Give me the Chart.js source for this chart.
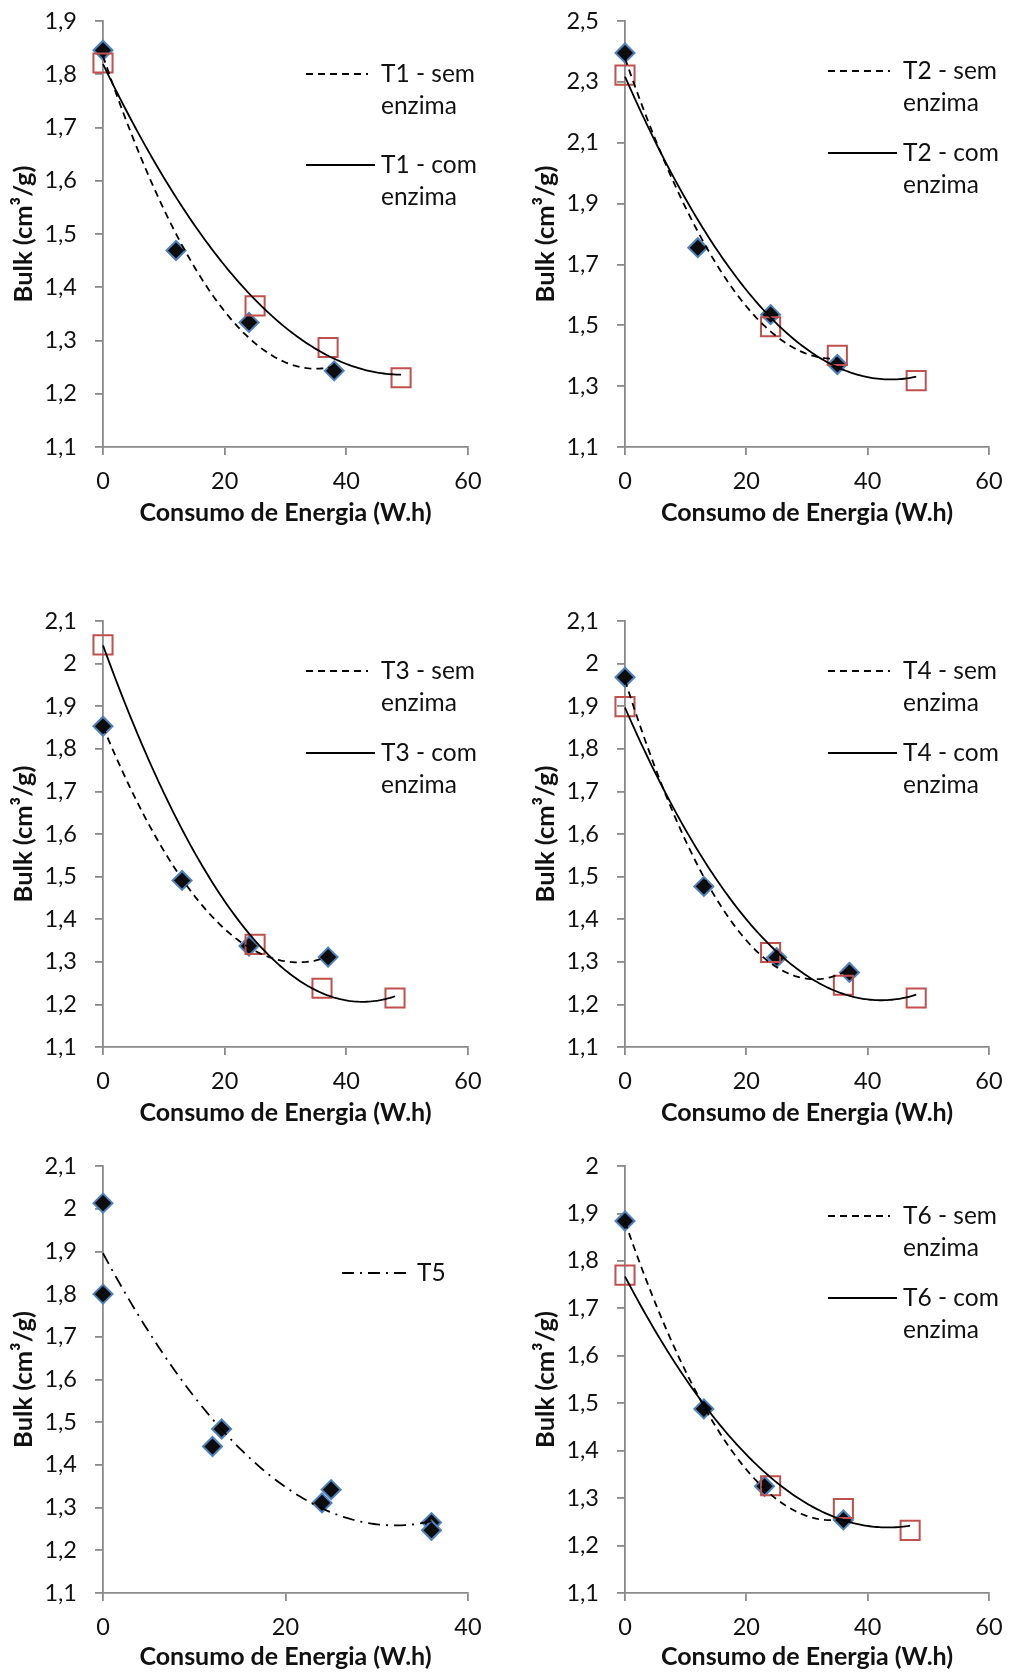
<!DOCTYPE html>
<html>
<head>
<meta charset="utf-8">
<script src="https://cdn.jsdelivr.net/npm/chart.js@4.4.1/dist/chart.umd.min.js"></script>
<style>
  html, body { margin: 0; padding: 0; background: #fff; }
  body { width: 1011px; height: 1672px; position: relative; overflow: hidden; }
  canvas { position: absolute; }
</style>
</head>
<body>
<canvas id="c1"></canvas>
<canvas id="c2"></canvas>
<canvas id="c3"></canvas>
<canvas id="c4"></canvas>
<canvas id="c5"></canvas>
<canvas id="c6"></canvas>
<script>
// ---------------- DATA ----------------
const xTitle = 'Consumo de Energia (W.h)';
const yTitle = 'Bulk (cm³/g)';

// T1
const t1SemX = [0, 12, 24, 38];
const t1SemY = [1.845, 1.469, 1.334, 1.243];
const t1ComX = [0, 25, 37, 49];
const t1ComY = [1.821, 1.365, 1.287, 1.230];
const t1Labels = [['T1 - sem', 'enzima'], ['T1 - com', 'enzima']];

// T2
const t2SemX = [0, 12, 24, 35];
const t2SemY = [2.395, 1.755, 1.535, 1.371];
const t2ComX = [0, 24, 35, 48];
const t2ComY = [2.322, 1.495, 1.401, 1.318];
const t2Labels = [['T2 - sem', 'enzima'], ['T2 - com', 'enzima']];

// T3
const t3SemX = [0, 13, 24, 37];
const t3SemY = [1.853, 1.491, 1.337, 1.311];
const t3ComX = [0, 25, 36, 48];
const t3ComY = [2.044, 1.341, 1.238, 1.215];
const t3Labels = [['T3 - sem', 'enzima'], ['T3 - com', 'enzima']];

// T4
const t4SemX = [0, 13, 25, 37];
const t4SemY = [1.968, 1.477, 1.310, 1.275];
const t4ComX = [0, 24, 36, 48];
const t4ComY = [1.899, 1.322, 1.245, 1.215];
const t4Labels = [['T4 - sem', 'enzima'], ['T4 - com', 'enzima']];

// T5
const t5X = [0, 0, 12, 13, 24, 25, 36, 36];
const t5Y = [2.013, 1.800, 1.443, 1.484, 1.311, 1.342, 1.265, 1.247];
const t5Labels = [['T5']];

// T6
const t6SemX = [0, 13, 23, 36];
const t6SemY = [1.884, 1.488, 1.325, 1.254];
const t6ComX = [0, 24, 36, 47];
const t6ComY = [1.770, 1.326, 1.278, 1.232];
const t6Labels = [['T6 - sem', 'enzima'], ['T6 - com', 'enzima']];

// axis ranges [min, max, step]
const xRangeA = [0, 60, 20];
const xRangeB = [0, 40, 20];
const yRange1 = [1.1, 1.9, 0.1];
const yRange2 = [1.1, 2.5, 0.2];
const yRange3 = [1.1, 2.1, 0.1];
const yRange4 = [1.1, 2.1, 0.1];
const yRange5 = [1.1, 2.1, 0.1];
const yRange6 = [1.1, 2.0, 0.1];

// ---------------- helpers ----------------
const FONT = 'Lato, "Open Sans", "DejaVu Sans", sans-serif';
const TEXT = '#111';
const AXIS = '#8a8a8a';

function pts(xs, ys) { return xs.map((x, i) => ({ x: x, y: ys[i] })); }

// Excel-style polynomial (order 2) trendline: least squares fit of the data
function quadFit(xs, ys) {
  const s = [0, 0, 0, 0, 0], t = [0, 0, 0];
  for (let i = 0; i < xs.length; i++) {
    let p = 1;
    for (let k = 0; k <= 4; k++) { s[k] += p; if (k <= 2) t[k] += ys[i] * p; p *= xs[i]; }
  }
  const A = [[s[0], s[1], s[2], t[0]], [s[1], s[2], s[3], t[1]], [s[2], s[3], s[4], t[2]]];
  for (let c = 0; c < 3; c++) {
    let m = c;
    for (let r = c + 1; r < 3; r++) if (Math.abs(A[r][c]) > Math.abs(A[m][c])) m = r;
    [A[c], A[m]] = [A[m], A[c]];
    for (let r = 0; r < 3; r++) {
      if (r === c) continue;
      const f = A[r][c] / A[c][c];
      for (let k = c; k < 4; k++) A[r][k] -= f * A[c][k];
    }
  }
  return [A[0][3] / A[0][0], A[1][3] / A[1][1], A[2][3] / A[2][2]];
}
function trend(xs, ys) {
  const c = quadFit(xs, ys);
  const x0 = Math.min(...xs), x1 = Math.max(...xs);
  const out = [];
  const n = 120;
  for (let i = 0; i <= n; i++) {
    const x = x0 + (x1 - x0) * i / n;
    out.push({ x: x, y: c[0] + c[1] * x + c[2] * x * x });
  }
  return out;
}

const DASH = [7, 5];
const DASHDOT = [12, 6, 2, 6];

function semPoints(xs, ys) {
  return { type: 'scatter', data: pts(xs, ys), pointStyle: 'rectRot', pointRadius: 9.5,
    backgroundColor: '#0d0d0d', borderColor: '#4f81bd', borderWidth: 2, showLine: false, clip: false, order: 2 };
}
function comPoints(xs, ys) {
  return { type: 'scatter', data: pts(xs, ys), pointStyle: 'rect', pointRadius: 13.5,
    backgroundColor: 'rgba(0,0,0,0)', borderColor: '#c0504d', borderWidth: 2, showLine: false, clip: false, order: 1 };
}
function trendLine(xs, ys, dash) {
  return { type: 'scatter', data: trend(xs, ys), showLine: true, pointRadius: 0, borderColor: '#000',
    borderWidth: 1.8, borderDash: dash, backgroundColor: '#000', clip: false, order: 0, tension: 0 };
}

function fmt(v) {
  const r = Math.round(v * 10) / 10;
  return String(r).replace('.', ',');
}

// legend drawing plugin
const legendPlugin = {
  id: 'customLegend',
  afterDatasetsDraw(chart, args, o) {
    if (!o || !o.items) return;
    const ctx = chart.ctx, a = chart.chartArea;
    ctx.save();
    ctx.font = o.fontSize + 'px ' + FONT;
    ctx.fillStyle = TEXT;
    ctx.textBaseline = 'middle';
    ctx.textAlign = 'left';
    o.items.forEach((it, i) => {
      const y = a.top + o.top + i * o.gap;
      ctx.save();
      ctx.strokeStyle = '#000';
      ctx.lineWidth = 1.8;
      ctx.setLineDash(it.dash);
      ctx.beginPath();
      ctx.moveTo(a.left + o.x0, y);
      ctx.lineTo(a.left + it.x1, y);
      ctx.stroke();
      ctx.restore();
      it.lines.forEach((t, j) => ctx.fillText(t, a.left + o.textX, y + j * o.lineGap));
    });
    ctx.restore();
  }
};

function makeChart(id, box, plot, xr, yr, datasets, legend, yTitleOff, xTitleOff) {
  const cv = document.getElementById(id);
  cv.width = box.w; cv.height = box.h;
  cv.style.left = box.x + 'px'; cv.style.top = box.y + 'px';
  cv.style.width = box.w + 'px'; cv.style.height = box.h + 'px';
  const yW = plot.l - box.x;
  const xH = box.y + box.h - plot.b;
  new Chart(cv, {
    type: 'scatter',
    data: { datasets: datasets },
    plugins: [legendPlugin],
    options: {
      responsive: false,
      animation: false,
      events: [],
      devicePixelRatio: 1,
      layout: { padding: { left: 0, top: plot.t - box.y, right: box.x + box.w - plot.r, bottom: 0 } },
      plugins: { legend: { display: false }, tooltip: { enabled: false }, customLegend: legend },
      scales: {
        x: {
          type: 'linear', min: xr[0], max: xr[1],
          afterFit: (s) => { s.height = xH; },
          ticks: { stepSize: xr[2], color: TEXT, padding: 15, font: { family: FONT, size: 23.5, lineHeight: 1 } },
          grid: { drawOnChartArea: false, drawTicks: true, tickLength: 8, color: AXIS, lineWidth: 1.8 },
          border: { display: true, color: AXIS, width: 1.8 },
          title: { display: true, text: xTitle, color: TEXT, padding: { top: 0, bottom: xTitleOff },
            font: { family: FONT, size: 25, weight: 'bold', lineHeight: 1 } }
        },
        y: {
          type: 'linear', min: yr[0], max: yr[1],
          afterFit: (s) => { s.width = yW; },
          ticks: { stepSize: yr[2], color: TEXT, padding: 18, callback: (v) => fmt(v),
            font: { family: FONT, size: 23.5, lineHeight: 1 } },
          grid: { drawOnChartArea: false, drawTicks: true, tickLength: 8, color: AXIS, lineWidth: 1.8 },
          border: { display: true, color: AXIS, width: 1.8 },
          title: { display: true, text: yTitle, color: TEXT, padding: { top: yTitleOff, bottom: 0 },
            font: { family: FONT, size: 25.5, weight: 'bold', lineHeight: 1 } }
        }
      }
    }
  });
}

function twoLegend(labels, top, gap) {
  return { fontSize: 24.5, top: top, gap: gap, lineGap: 32, x0: 203, textX: 278,
    items: [{ lines: labels[0], dash: DASH, x1: 265 }, { lines: labels[1], dash: [], x1: 272 }] };
}

// canvas boxes (page coordinates); generous margins so Chart.js auto-padding never moves the plot area
const boxL1 = { x: 0, y: -40, w: 505, h: 600 }, boxR1 = { x: 505, y: -40, w: 540, h: 600 };
const boxL2 = { x: 0, y: 560, w: 505, h: 580 }, boxR2 = { x: 505, y: 560, w: 540, h: 580 };
const boxL3 = { x: 0, y: 1120, w: 505, h: 552 }, boxR3 = { x: 505, y: 1120, w: 540, h: 552 };

makeChart('c1', boxL1, { l: 103, r: 468, t: 21, b: 447 }, xRangeA, yRange1, [
  trendLine(t1SemX, t1SemY, DASH), trendLine(t1ComX, t1ComY, []),
  semPoints(t1SemX, t1SemY), comPoints(t1ComX, t1ComY)
], twoLegend(t1Labels, 53, 91), 11, 34.5);

makeChart('c2', boxR1, { l: 625, r: 989, t: 21, b: 447 }, xRangeA, yRange2, [
  trendLine(t2SemX, t2SemY, DASH), trendLine(t2ComX, t2ComY, []),
  semPoints(t2SemX, t2SemY), comPoints(t2ComX, t2ComY)
], twoLegend(t2Labels, 50, 82), 28, 34.5);

makeChart('c3', boxL2, { l: 103, r: 468, t: 621, b: 1047 }, xRangeA, yRange3, [
  trendLine(t3SemX, t3SemY, DASH), trendLine(t3ComX, t3ComY, []),
  semPoints(t3SemX, t3SemY), comPoints(t3ComX, t3ComY)
], twoLegend(t3Labels, 50, 82), 11, 14.5);

makeChart('c4', boxR2, { l: 625, r: 989, t: 621, b: 1047 }, xRangeA, yRange4, [
  trendLine(t4SemX, t4SemY, DASH), trendLine(t4ComX, t4ComY, []),
  semPoints(t4SemX, t4SemY), comPoints(t4ComX, t4ComY)
], twoLegend(t4Labels, 50, 82), 28, 14.5);

makeChart('c5', boxL3, { l: 103, r: 468, t: 1166, b: 1593 }, xRangeB, yRange5, [
  trendLine(t5X, t5Y, DASHDOT), semPoints(t5X, t5Y)
], { fontSize: 24.5, top: 107, gap: 0, lineGap: 32, x0: 239, textX: 314,
     items: [{ lines: t5Labels[0], dash: DASHDOT, x1: 306 }] }, 11, 2.5);

makeChart('c6', boxR3, { l: 625, r: 989, t: 1166, b: 1593 }, xRangeA, yRange6, [
  trendLine(t6SemX, t6SemY, DASH), trendLine(t6ComX, t6ComY, []),
  semPoints(t6SemX, t6SemY), comPoints(t6ComX, t6ComY)
], twoLegend(t6Labels, 50, 82), 28, 2.5);
</script>
</body>
</html>
